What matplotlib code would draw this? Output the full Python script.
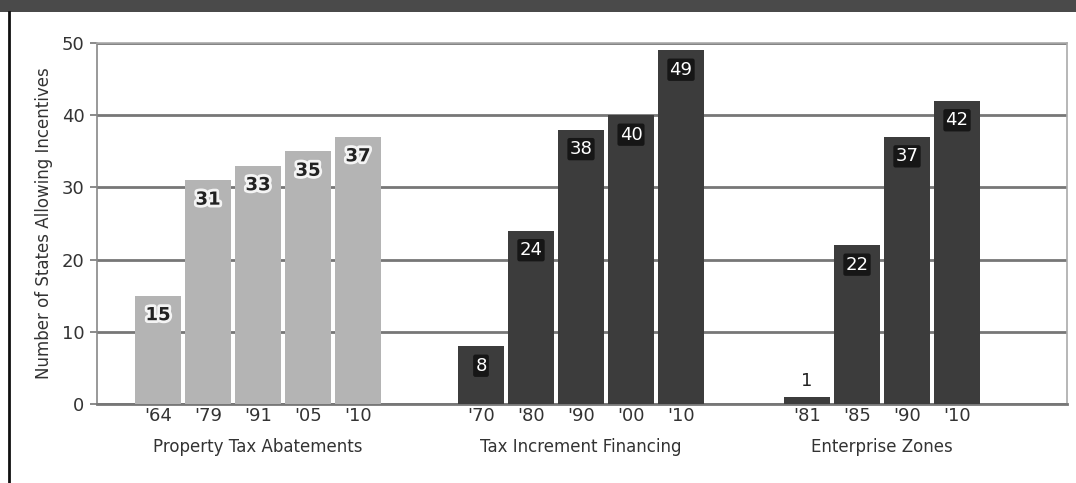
import matplotlib
matplotlib.use("Agg")
import matplotlib.pyplot as plt
import matplotlib.patheffects as pe
from matplotlib.patches import Rectangle
from matplotlib.lines import Line2D

plt.rcParams['font.family'] = ['DejaVu Sans']

# ---- data ----
groups = ["Property Tax Abatements", "Tax Increment Financing", "Enterprise Zones"]
pta_years = ["'64", "'79", "'91", "'05", "'10"]
pta_values = [15, 31, 33, 35, 37]
tif_years = ["'70", "'80", "'90", "'00", "'10"]
tif_values = [8, 24, 38, 40, 49]
ez_years = ["'81", "'85", "'90", "'10"]
ez_values = [1, 22, 37, 42]
y_ticks = [0, 10, 20, 30, 40, 50]
y_label = "Number of States Allowing Incentives"

LIGHT = "#b4b4b4"
DARK = "#3c3c3c"

fig = plt.figure(figsize=(10.76, 4.83), dpi=100)
ax = fig.add_axes([97/1076, 1-404/483, (1067-97)/1076, (404-43)/483])

# top band and left border
fig.patches.append(Rectangle((0, 1-12/483), 1, 12/483, transform=fig.transFigure,
                             facecolor="#4a4a4a", edgecolor="none", zorder=0))
fig.lines.append(Line2D([9/1076, 9/1076], [0, 1-12/483], transform=fig.transFigure,
                        color="#111111", lw=2))

series = [(pta_years, pta_values, LIGHT), (tif_years, tif_values, DARK), (ez_years, ez_values, DARK)]
starts = [0.0, 6.46, 12.98]
width = 0.93

all_pos, all_lab = [], []
for (yrs, vals, col), s, gname in zip(series, starts, groups):
    pos = [s + i for i in range(len(vals))]
    ax.bar(pos, vals, width=width, color=col, edgecolor="none", zorder=3)
    all_pos += pos
    all_lab += yrs
    for p, v in zip(pos, vals):
        if v < 5:
            ax.text(p, v + 2.2, str(v), ha="center", va="center", fontsize=13,
                    color="#222222", zorder=5)
        elif col == LIGHT:
            ax.text(p, v - 2.7, str(v), ha="center", va="center", fontsize=13,
                    fontweight="bold", color="#222222", zorder=5,
                    path_effects=[pe.withStroke(linewidth=4, foreground="#f4f4f4")])
        else:
            ax.text(p, v - 2.7, str(v), ha="center", va="center", fontsize=13,
                    color="white", zorder=5,
                    bbox=dict(boxstyle="round,pad=0.12", fc="#161616", ec="none"))
    ax.text((pos[0] + pos[-1]) / 2, -0.095, gname, transform=ax.get_xaxis_transform(),
            ha="center", va="top", fontsize=12, color="#333333")

ax.set_xticks(all_pos)
ax.set_xticklabels(all_lab, fontsize=13, color="#333333")
ax.tick_params(axis="x", length=0, pad=2)
ax.set_xlim(-1.22, 18.18)
ax.set_ylim(0, 50)
ax.set_yticks(y_ticks)
ax.set_yticklabels([str(t) for t in y_ticks], fontsize=13, color="#333333")
ax.tick_params(axis="y", length=5, width=1.2, color="#777777", pad=4)
ax.set_ylabel(y_label, fontsize=12, color="#333333", labelpad=6)

ax.grid(axis="y", color="#777777", lw=2, zorder=1)
ax.set_axisbelow(True)
for side in ["top", "right"]:
    ax.spines[side].set_color("#aaaaaa")
    ax.spines[side].set_linewidth(1.2)
ax.spines["left"].set_color("#888888")
ax.spines["left"].set_linewidth(1.2)
ax.spines["bottom"].set_color("#777777")
ax.spines["bottom"].set_linewidth(2)

fig.savefig("out.png", dpi=100)
